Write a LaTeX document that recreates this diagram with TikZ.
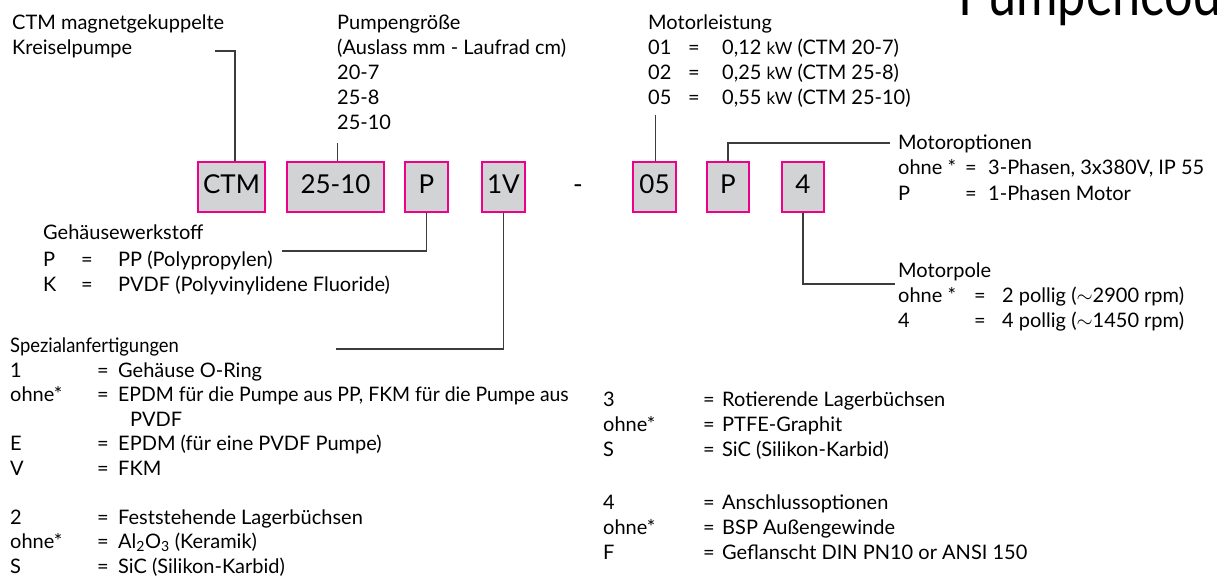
\documentclass[tikz,border=0pt]{standalone}
\usepackage{fontspec}
\setmainfont{Lato}
\definecolor{boxfill}{HTML}{D1D3D4}
\definecolor{boxline}{HTML}{EC008C}
\definecolor{conncol}{HTML}{3C3C3C}
\newcommand\cola[3]{\makebox[#1pt][l]{#2}#3}
\begin{document}
\begin{tikzpicture}[x=1pt,y=-1pt,
  codebox/.style={draw=boxline, fill=boxfill, line width=1.5pt, minimum height=50pt, inner sep=0pt,
    text height=19pt, text depth=5pt, font=\fontsize{26}{30}\selectfont},
  lbl/.style={anchor=base west, inner sep=0pt, font=\fontsize{20}{24}\selectfont},
  conn/.style={draw=conncol, line width=1.4pt}]
\clip (0,0) rectangle (1217,577);
\fill[white] (0,0) rectangle (1217,577);
% title
\node[anchor=base west, inner sep=0pt, font=\fontsize{60}{60}\selectfont] (title) at (958,16) {\scalebox{0.84}[1]{Pumpencode}};
% code boxes
\node[codebox, minimum width=67pt] (bCTM) at (231.5,187) {CTM};
\node[codebox, minimum width=97pt] (b2510) at (335.5,187) {25-10};
\node[codebox, minimum width=43pt] (bP) at (426.5,187) {P};
\node[codebox, minimum width=43pt] (b1V) at (503.5,187) {1V};
\node[inner sep=0pt, text height=19pt, text depth=5pt, font=\fontsize{26}{30}\selectfont] (dash) at (578,187) {-};
\node[codebox, minimum width=43pt] (b05) at (654.5,187) {05};
\node[codebox, minimum width=42pt] (bP2) at (728,187) {P};
\node[codebox, minimum width=42pt] (b4) at (803,187) {4};
% top texts
\node[lbl] (t1) at (12,30) {CTM magnetgekuppelte};
\node[lbl] (t2) at (12,55) {Kreiselpumpe};
\node[lbl] (s1) at (337,30) {Pumpengröße};
\node[lbl] (s2) at (337,55) {(Auslass mm - Laufrad cm)};
\node[lbl] (s3) at (337,80) {20-7};
\node[lbl] (s4) at (337,105) {25-8};
\node[lbl] (s5) at (337,130) {25-10};
\node[lbl] (m1) at (648,30) {Motorleistung};
\node[lbl] (m2) at (648,55) {\cola{40}{01}{\cola{34}{=}{0,12 {\fontsize{17}{20}\selectfont kW} (CTM 20-7)}}};
\node[lbl] (m3) at (648,80) {\cola{40}{02}{\cola{34}{=}{0,25 {\fontsize{17}{20}\selectfont kW} (CTM 25-8)}}};
\node[lbl] (m4) at (648,105) {\cola{40}{05}{\cola{34}{=}{0,55 {\fontsize{17}{20}\selectfont kW} (CTM 25-10)}}};
% motor options
\node[lbl] (o1) at (898,150) {Motoroptionen};
\node[lbl] (o2) at (898,175) {\cola{67}{ohne *}{\cola{23}{=}{3-Phasen, 3x380V, IP 55}}};
\node[lbl] (o3) at (898,201) {\cola{67}{P}{\cola{23}{=}{1-Phasen Motor}}};
\node[lbl] (p1) at (898,277) {Motorpole};
\node[lbl] (p2) at (898,302) {\cola{76}{ohne *}{\cola{28}{=}{2 pollig ($\sim$2900 rpm)}}};
\node[lbl] (p3) at (898,327) {\cola{76}{4}{\cola{28}{=}{4 pollig ($\sim$1450 rpm)}}};
% housing
\node[lbl] (g1) at (43,240) {Gehäusewerkstoff};
\node[lbl] (g2) at (43,266) {\cola{38}{P}{\cola{37}{=}{PP (Polypropylen)}}};
\node[lbl] (g3) at (43,291) {\cola{38}{K}{\cola{37}{=}{PVDF (Polyvinylidene Fluoride)}}};
% special
\node[lbl] (x1) at (10,352.5) {\scalebox{0.92}[1]{Spezialanfertigungen}};
\node[lbl] (x2) at (10,377) {\cola{87}{1}{\cola{21}{=}{Gehäuse O-Ring}}};
\node[lbl] (x3) at (10,401.5) {\cola{87}{ohne*}{\cola{21}{=}{\scalebox{0.97}[1]{EPDM für die Pumpe aus PP, FKM für die Pumpe aus}}}};
\node[lbl] (x4) at (130,426) {PVDF};
\node[lbl] (x5) at (10,450.5) {\cola{87}{E}{\cola{21}{=}{EPDM (für eine PVDF Pumpe)}}};
\node[lbl] (x6) at (10,475) {\cola{87}{V}{\cola{21}{=}{FKM}}};
\node[lbl] (x7) at (10,524) {\cola{87}{2}{\cola{21}{=}{Feststehende Lagerbüchsen}}};
\node[lbl] (x8) at (10,548.5) {\cola{87}{ohne*}{\cola{21}{=}{Al\textsubscript{2}O\textsubscript{3} (Keramik)}}};
\node[lbl] (x9) at (10,573) {\cola{87}{S}{\cola{21}{=}{SiC (Silikon-Karbid)}}};
% middle bottom
\node[lbl] (y1) at (603,406.7) {\cola{100}{3}{\cola{19}{=}{Rotierende Lagerbüchsen}}};
\node[lbl] (y2) at (603,431.5) {\cola{100}{ohne*}{\cola{19}{=}{PTFE-Graphit}}};
\node[lbl] (y3) at (603,456) {\cola{100}{S}{\cola{19}{=}{SiC (Silikon-Karbid)}}};
\node[lbl] (y4) at (603,509) {\cola{100}{4}{\cola{19}{=}{Anschlussoptionen}}};
\node[lbl] (y5) at (603,534) {\cola{100}{ohne*}{\cola{19}{=}{BSP Außengewinde}}};
\node[lbl] (y6) at (603,559) {\cola{100}{F}{\cola{19}{=}{Geflanscht DIN PN10 or ANSI 150}}};
% connectors
\coordinate (kp) at (215,51);
\coordinate (ps) at (337.7,143);
\coordinate (ml) at (655.7,115);
\coordinate (mo) at (890,143);
\coordinate (gw) at (282,251);
\coordinate (sp) at (336,349);
\coordinate (mp) at (895,284);
\draw[conn] (kp) -| ([xshift=3.5pt]bCTM.north);
\draw[conn] (ps) -- (ps |- b2510.north);
\draw[conn] (ml) -- (ml |- b05.north);
\draw[conn] (bP2.north) |- (mo);
\draw[conn] (bP.south) |- (gw);
\draw[conn] (b1V.south) |- (sp);
\draw[conn] (b4.south) |- (mp);
\end{tikzpicture}
\end{document}
